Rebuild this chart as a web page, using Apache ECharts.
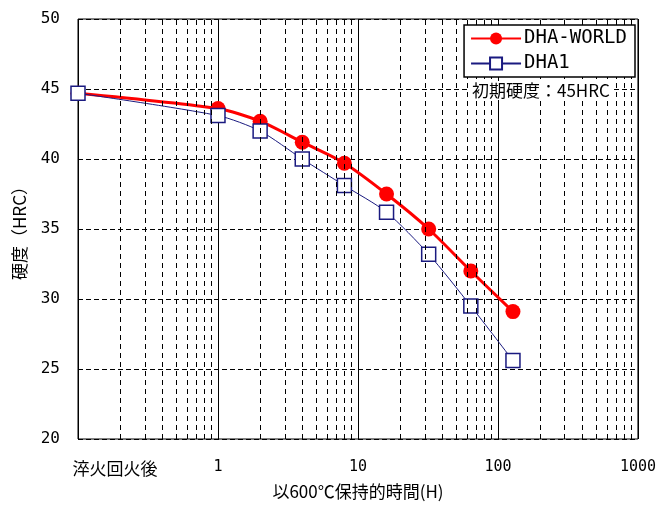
<!DOCTYPE html>
<html><head><meta charset="utf-8">
<script src="https://cdn.jsdelivr.net/npm/echarts@6/dist/echarts.min.js"></script>
<style>html,body{margin:0;padding:0;background:#fff}#c{width:659px;height:505px}</style>
</head><body><div id="c"></div>
<script>
var hours = [0.1, 1, 2, 4, 8, 16, 32, 64, 128];
var dhaWorld = [44.7, 43.6, 42.7, 41.2, 39.7, 37.5, 35.0, 32.0, 29.1];
var dha1 = [44.7, 43.1, 42.0, 40.0, 38.1, 36.2, 33.2, 29.5, 25.6];
var seriesNames = ['DHA-WORLD', 'DHA1'];
var xAxisName = '以600℃保持的時間(H)';
var yAxisName = '硬度（HRC）';
var firstTickLabel = '淬火回火後';
var noteText = '初期硬度：45HRC';
var decades = [0.1, 1, 10, 100];
var minorSteps = [2, 3, 4, 5, 6, 7, 8, 9];

var minorLines = [];
decades.forEach(function (d) { minorSteps.forEach(function (m) { minorLines.push({ xAxis: +(d * m).toPrecision(3) }); }); });

function pairs(ys) { return hours.map(function (h, i) { return [h, ys[i]]; }); }

var chart = echarts.init(document.getElementById('c'), null, { renderer: 'canvas' });
chart.setOption({
  animation: false,
  backgroundColor: '#fff',
  grid: { left: 78, right: 20, top: 19, bottom: 65, show: true, borderColor: '#000', borderWidth: 1, backgroundColor: 'transparent' },
  xAxis: {
    type: 'log', logBase: 10, min: 0.1, max: 1000,
    name: xAxisName, nameLocation: 'middle', nameGap: 44,
    nameTextStyle: { fontFamily: 'Noto Sans CJK JP', fontSize: 17, color: '#000' },
    axisLine: { show: false }, axisTick: { show: false },
    axisLabel: {
      margin: 21, color: '#000', fontFamily: 'DejaVu Sans Mono', fontSize: 15,
      showMinLabel: true, showMaxLabel: true,
      formatter: function (v) { return v < 0.5 ? '{a|' + firstTickLabel + '}' : String(Math.round(v)); },
      rich: { a: { fontFamily: 'Noto Sans CJK JP', fontSize: 17, color: '#000', padding: [0, 0, 0, 74] } }
    },
    splitLine: { show: true, lineStyle: { color: '#000', width: 1, type: 'solid' } }
  },
  yAxis: {
    type: 'value', min: 20, max: 50, interval: 5,
    name: yAxisName, nameLocation: 'middle', nameGap: 50, nameRotate: 90,
    nameTextStyle: { fontFamily: 'Noto Sans CJK JP', fontSize: 17, color: '#000' },
    axisLine: { show: false }, axisTick: { show: false },
    axisLabel: { margin: 18, color: '#000', fontFamily: 'DejaVu Sans Mono', fontSize: 16 },
    splitLine: { show: true, lineStyle: { color: '#000', width: 1, type: [5, 3] } }
  },
  legend: {
    orient: 'vertical', right: 24, top: 25, z: 20,
    backgroundColor: '#fff', borderColor: '#000', borderWidth: 1.5,
    padding: [4, 8, 4, 6], itemGap: 6, itemWidth: 50, itemHeight: 15,
    textStyle: { fontFamily: 'DejaVu Sans Mono', fontSize: 19, color: '#000', padding: [0, 0, 0, -2] },
    data: seriesNames
  },
  graphic: [{ type: 'text', left: 469, top: 81, z: 20, style: { text: noteText, fontFamily: 'Noto Sans CJK JP', fontSize: 17, fill: '#000', backgroundColor: '#fff', padding: [1, 3, 1, 3] } }],
  series: [
    {
      name: seriesNames[0], type: 'line', data: pairs(dhaWorld), smooth: 0.25,
      symbol: 'circle', symbolSize: 15,
      lineStyle: { color: '#ff0000', width: 3 },
      itemStyle: { color: '#ff0000' },
      markLine: {
        silent: true, symbol: ['none', 'none'], label: { show: false },
        lineStyle: { color: '#000', width: 1, type: [5, 4] },
        data: minorLines
      },
      z: 3
    },
    {
      name: seriesNames[1], type: 'line', data: pairs(dha1), smooth: 0.25,
      symbol: 'rect', symbolSize: 14,
      lineStyle: { color: '#1a1a80', width: 1 },
      itemStyle: { color: '#fff', borderColor: '#1a1a80', borderWidth: 1.5 },
      z: 4
    }
  ]
});
</script></body></html>
